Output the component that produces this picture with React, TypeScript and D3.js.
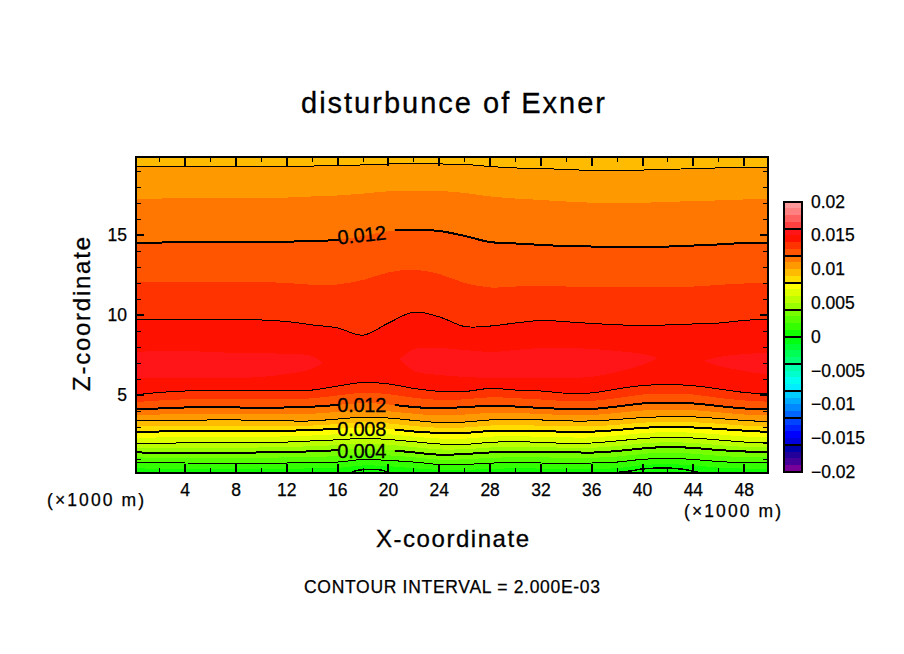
import React from 'react';
import * as d3 from 'd3';

const width = 904;
const height = 654;
const FONT = '"Liberation Sans", Arimo, sans-serif';

const xKnots = [0, 2, 4, 6, 8, 10, 12, 14, 16, 18, 20, 22, 24, 26, 28, 30, 32, 34, 36, 38, 40, 42, 44, 46, 48, 50];

// Contour heights (km) going up from the ground, where the field increases with z
const z001 = [0.41, 0.4, 0.4, 0.4, 0.4, 0.4, 0.4, 0.41, 0.44, 0.6, 0.55, 0.42, 0.32, 0.32, 0.38, 0.42, 0.4, 0.38, 0.38, 0.42, 0.62, 0.68, 0.6, 0.46, 0.4, 0.4];
const z002 = [0.79, 0.78, 0.75, 0.75, 0.75, 0.75, 0.75, 0.77, 0.81, 0.97, 0.91, 0.81, 0.66, 0.66, 0.74, 0.79, 0.75, 0.73, 0.75, 0.81, 0.98, 1.04, 0.97, 0.84, 0.77, 0.77];
const z003 = [1.1, 1.08, 1.07, 1.07, 1.07, 1.08, 1.1, 1.13, 1.18, 1.3, 1.23, 1.11, 0.96, 0.98, 1.07, 1.11, 1.1, 1.08, 1.08, 1.15, 1.32, 1.4, 1.33, 1.2, 1.12, 1.11];
const z004 = [1.42, 1.38, 1.38, 1.39, 1.39, 1.41, 1.44, 1.48, 1.55, 1.63, 1.56, 1.41, 1.27, 1.31, 1.41, 1.44, 1.46, 1.43, 1.4, 1.5, 1.66, 1.75, 1.69, 1.56, 1.47, 1.46];
const z005 = [1.68, 1.68, 1.7, 1.71, 1.71, 1.72, 1.75, 1.8, 1.87, 1.96, 1.89, 1.74, 1.6, 1.61, 1.72, 1.76, 1.75, 1.7, 1.7, 1.81, 1.97, 2.05, 2.0, 1.87, 1.76, 1.75];
const z006 = [1.94, 1.98, 2.01, 2.03, 2.04, 2.04, 2.06, 2.13, 2.2, 2.29, 2.22, 2.08, 1.94, 1.91, 2.04, 2.08, 2.04, 1.98, 2.0, 2.13, 2.28, 2.36, 2.31, 2.19, 2.06, 2.04];
const z007 = [2.3, 2.35, 2.38, 2.39, 2.4, 2.4, 2.41, 2.47, 2.55, 2.63, 2.55, 2.4, 2.28, 2.27, 2.4, 2.42, 2.39, 2.35, 2.35, 2.47, 2.61, 2.68, 2.64, 2.53, 2.41, 2.36];
const z008 = [2.67, 2.72, 2.75, 2.75, 2.75, 2.77, 2.77, 2.81, 2.89, 2.97, 2.88, 2.72, 2.63, 2.63, 2.75, 2.77, 2.73, 2.71, 2.71, 2.81, 2.95, 3.0, 2.97, 2.88, 2.77, 2.69];
const z009 = [3.02, 3.06, 3.08, 3.09, 3.09, 3.09, 3.07, 3.09, 3.19, 3.29, 3.22, 3.06, 2.95, 2.97, 3.09, 3.12, 3.08, 3.04, 3.04, 3.14, 3.27, 3.32, 3.3, 3.2, 3.09, 3.01];
const z010 = [3.38, 3.41, 3.42, 3.44, 3.44, 3.42, 3.38, 3.38, 3.5, 3.61, 3.56, 3.41, 3.28, 3.31, 3.44, 3.47, 3.44, 3.38, 3.38, 3.47, 3.59, 3.64, 3.63, 3.53, 3.41, 3.33];
const z011 = [3.74, 3.78, 3.82, 3.83, 3.83, 3.82, 3.8, 3.83, 3.94, 4.05, 3.98, 3.83, 3.72, 3.78, 3.88, 3.88, 3.81, 3.75, 3.75, 3.88, 4.03, 4.08, 4.05, 3.92, 3.78, 3.72];
const z012 = [4.11, 4.16, 4.22, 4.23, 4.22, 4.21, 4.22, 4.27, 4.38, 4.5, 4.41, 4.25, 4.16, 4.25, 4.31, 4.28, 4.19, 4.13, 4.13, 4.28, 4.47, 4.52, 4.47, 4.31, 4.16, 4.11];
const z013 = [4.55, 4.66, 4.73, 4.77, 4.75, 4.74, 4.74, 4.79, 4.97, 5.14, 5.05, 4.83, 4.69, 4.73, 4.86, 4.8, 4.72, 4.62, 4.63, 4.81, 5.03, 5.09, 5.03, 4.82, 4.66, 4.58];
const z014 = [5.0, 5.16, 5.25, 5.31, 5.28, 5.27, 5.27, 5.31, 5.56, 5.78, 5.69, 5.41, 5.23, 5.22, 5.41, 5.31, 5.25, 5.11, 5.13, 5.38, 5.59, 5.66, 5.58, 5.38, 5.16, 5.06];

// Same levels again above the maximum, where the field decreases with z
const zUp014 = [9.75, 9.73, 9.72, 9.71, 9.7, 9.69, 9.59, 9.38, 9.19, 8.74, 9.5, 10.18, 9.88, 9.28, 9.31, 9.5, 9.66, 9.58, 9.47, 9.39, 9.34, 9.38, 9.44, 9.5, 9.66, 9.75];
const zUp013 = [12.08, 12.08, 12.08, 12.07, 12.06, 12.06, 12.0, 11.89, 11.91, 12.19, 12.66, 12.83, 12.56, 12.0, 11.72, 11.78, 11.81, 11.78, 11.75, 11.75, 11.75, 11.75, 11.78, 11.88, 11.97, 12.0];
const zUp012 = [14.52, 14.53, 14.54, 14.55, 14.56, 14.56, 14.58, 14.63, 14.69, 14.94, 15.25, 15.33, 15.25, 14.94, 14.56, 14.47, 14.38, 14.31, 14.28, 14.28, 14.28, 14.28, 14.34, 14.41, 14.5, 14.53];
const zUp011 = [17.25, 17.28, 17.29, 17.31, 17.31, 17.33, 17.34, 17.41, 17.47, 17.59, 17.73, 17.75, 17.75, 17.63, 17.41, 17.28, 17.19, 17.09, 17.02, 17.02, 17.02, 17.06, 17.13, 17.16, 17.22, 17.25];
const zUp010 = [19.27, 19.28, 19.31, 19.31, 19.31, 19.31, 19.31, 19.31, 19.34, 19.38, 19.44, 19.47, 19.44, 19.41, 19.28, 19.19, 19.16, 19.09, 19.04, 19.04, 19.06, 19.09, 19.16, 19.19, 19.22, 19.23];

// Closed 0.015 patches: x, then upper and lower edge
const blobLeftX = [0, 2, 4, 6, 8, 10, 12, 14, 14.8];
const blobLeftTop = [7.69, 7.75, 7.75, 7.69, 7.63, 7.63, 7.56, 7.44, 7.0];
const blobLeftBottom = [6.06, 6.06, 6.06, 6.06, 6.06, 6.13, 6.31, 6.63, 7.0];
const blobMidX = [20.9, 22, 24, 26, 28, 30, 32, 34, 36, 38, 40, 41.2];
const blobMidTop = [7.25, 7.88, 7.94, 7.81, 7.69, 7.81, 7.94, 7.94, 7.88, 7.75, 7.56, 7.31];
const blobMidBottom = [7.25, 6.5, 6.25, 6.13, 6.06, 6.06, 6.06, 6.06, 6.13, 6.44, 6.88, 7.31];
const blobRightX = [44.8, 46, 48, 50];
const blobRightTop = [7.13, 7.38, 7.56, 7.63];
const blobRightBottom = [7.13, 6.81, 6.5, 6.25];

// Zero contour, only touching the ground in two places
const zeroAX = [17, 17.6, 19.5, 20];
const zeroAZ = [0.125, 0.3, 0.3, 0.125];
const zeroBX = [37.8, 39.2, 40, 43, 44.5];
const zeroBZ = [0.14, 0.27, 0.38, 0.38, 0.14];

// 40 colour bands, top of the colour bar first (0.02 down to -0.02)
const bandColors = [
  '#ff9999', '#ff8080', '#ff6060', '#ff4040',
  '#ff1418', '#ff1100', '#ff3300', '#ff5500',
  '#ff7700', '#ff9900', '#ffbb00', '#ffdd00',
  '#ffff00', '#ddff00', '#bbff00', '#99ff00',
  '#77ff00', '#55ff00', '#33ff00', '#11ff00',
  '#00ff11', '#00ff33', '#00ff55', '#00ff77',
  '#00ffaa', '#00ffcc', '#00ffee', '#00eeff',
  '#00ccff', '#00aaff', '#0088ff', '#0066ff',
  '#0044ff', '#0022ff', '#0000ff', '#0000dd',
  '#0000aa', '#220099', '#440099', '#770099'
];
const barTicks = [0.02, 0.015, 0.01, 0.005, 0, -0.005, -0.01, -0.015, -0.02];
const barLabels = ['0.02', '0.015', '0.01', '0.005', '0', '\u22120.005', '\u22120.01', '\u22120.015', '\u22120.02'];

const xMajor = [4, 8, 12, 16, 20, 24, 28, 32, 36, 40, 44, 48];
const xMinor = [2, 6, 10, 14, 18, 22, 26, 30, 34, 38, 42, 46];
const zMajor = [5, 10, 15];
const zMinor = [1, 2, 3, 4, 6, 7, 8, 9, 11, 12, 13, 14, 16, 17, 18, 19];

const x = d3.scaleLinear().domain([0.125, 49.875]).range([136, 768]);
const y = d3.scaleLinear().domain([0.125, 19.875]).range([473, 157]);
const barY = d3.scaleLinear().domain([0.02, -0.02]).range([201.5, 472]);

const colorOf = (lowerBound: number) => {
  const i = Math.round((0.02 - lowerBound) / 0.001) - 1;
  return bandColors[i];
};

const curve = d3.curveCatmullRom.alpha(0.5);

const lineOf = (xs: number[], zs: number[]) =>
  d3.line<number>().x((_, i) => x(xs[i])).y(d => y(d)).curve(curve)(zs) || '';

// fills from the contour up to the top of the plot
const fillAbove = (zs: number[]) =>
  d3.area<number>().x((_, i) => x(xKnots[i])).y0(() => y(19.875)).y1(d => y(d)).curve(curve)(zs) || '';

const blobPath = (xs: number[], top: number[], bottom: number[]) =>
  d3.area<number>().x((_, i) => x(xs[i])).y0((_, i) => y(bottom[i])).y1(d => y(d)).curve(curve)(top) || '';

// the fills are painted in this order, each one over the last
const upFills: [number[], number][] = [
  [z001, 0.001], [z002, 0.002], [z003, 0.003], [z004, 0.004], [z005, 0.005], [z006, 0.006], [z007, 0.007],
  [z008, 0.008], [z009, 0.009], [z010, 0.01], [z011, 0.011], [z012, 0.012], [z013, 0.013], [z014, 0.014]
];
const downFills: [number[], number][] = [
  [zUp014, 0.013], [zUp013, 0.012], [zUp012, 0.011], [zUp011, 0.01], [zUp010, 0.009]
];

const thinLines = [z002, z006, z010, z014, zUp014, zUp010];
const labelledLines = [z004, z008, z012, zUp012];

const contourLabels = [
  { text: '0.012', x: 17.9, z: 15.0, angle: -6 },
  { text: '0.012', x: 17.9, z: 4.4, angle: 0 },
  { text: '0.008', x: 17.9, z: 2.85, angle: 0 },
  { text: '0.004', x: 17.9, z: 1.5, angle: 0 }
];

export default function App() {
  const gapLeft = x(16.1);
  const gapRight = x(20.5);
  return (
    <svg width={width} height={height} style={{ position: 'absolute', left: 0, top: 0, background: '#fff' }} fontFamily={FONT} stroke="none">
      <defs>
        <clipPath id="plot">
          <rect x={136} y={157} width={632} height={316} />
        </clipPath>
        <clipPath id="gap">
          <rect x={136} y={157} width={gapLeft - 136} height={316} />
          <rect x={gapRight} y={157} width={768 - gapRight} height={316} />
        </clipPath>
      </defs>

      <text x={453} y={113} fontSize={29} textAnchor="middle" textLength={304} stroke="#000" strokeWidth={0.3}>disturbunce of Exner</text>

      {/* Filled bands */}
      <g clipPath="url(#plot)" shapeRendering="crispEdges">
        <rect x={136} y={157} width={632} height={316} fill={colorOf(0)} />
        {upFills.map(([zs, lvl]) => (
          <path key={`up-${lvl}`} d={fillAbove(zs)} fill={colorOf(lvl)} />
        ))}
        {downFills.map(([zs, lvl]) => (
          <path key={`down-${lvl}`} d={fillAbove(zs)} fill={colorOf(lvl)} />
        ))}
        <path d={blobPath(blobLeftX, blobLeftTop, blobLeftBottom)} fill={colorOf(0.015)} />
        <path d={blobPath(blobMidX, blobMidTop, blobMidBottom)} fill={colorOf(0.015)} />
        <path d={blobPath(blobRightX, blobRightTop, blobRightBottom)} fill={colorOf(0.015)} />
      </g>

      {/* Contour lines */}
      <g clipPath="url(#plot)" fill="none" stroke="#000" shapeRendering="crispEdges">
        {thinLines.map((zs, i) => (
          <path key={`thin-${i}`} d={lineOf(xKnots, zs)} strokeWidth={1} />
        ))}
        <path d={lineOf(zeroAX, zeroAZ)} strokeWidth={1.5} />
        <path d={lineOf(zeroBX, zeroBZ)} strokeWidth={1.5} />
      </g>
      <g clipPath="url(#gap)" fill="none" stroke="#000" shapeRendering="crispEdges">
        {labelledLines.map((zs, i) => (
          <path key={`thick-${i}`} d={lineOf(xKnots, zs)} strokeWidth={2} />
        ))}
      </g>
      {contourLabels.map(l => (
        <text
          key={`${l.text}-${l.z}`}
          transform={`translate(${x(l.x)},${y(l.z)}) rotate(${l.angle})`}
          fontSize={20}
          textAnchor="middle"
          dominantBaseline="central"
          textLength={49}
          stroke="#000"
          strokeWidth={0.3}
        >
          {l.text}
        </text>
      ))}

      {/* Ticks, pointing inwards on all four sides */}
      <g stroke="#000" shapeRendering="crispEdges">
        {xMajor.map(t => (
          <g key={`xM-${t}`} strokeWidth={2}>
            <line x1={x(t)} x2={x(t)} y1={157} y2={166} />
            <line x1={x(t)} x2={x(t)} y1={473} y2={464} />
          </g>
        ))}
        {xMinor.map(t => (
          <g key={`xm-${t}`} strokeWidth={1}>
            <line x1={x(t)} x2={x(t)} y1={157} y2={162} />
            <line x1={x(t)} x2={x(t)} y1={473} y2={468} />
          </g>
        ))}
        {zMajor.map(t => (
          <g key={`zM-${t}`} strokeWidth={2}>
            <line x1={136} x2={144} y1={y(t)} y2={y(t)} />
            <line x1={768} x2={760} y1={y(t)} y2={y(t)} />
          </g>
        ))}
        {zMinor.map(t => (
          <g key={`zm-${t}`} strokeWidth={1}>
            <line x1={136} x2={141} y1={y(t)} y2={y(t)} />
            <line x1={768} x2={763} y1={y(t)} y2={y(t)} />
          </g>
        ))}
        <rect x={136} y={157} width={632} height={316} fill="none" strokeWidth={2} />
      </g>

      {/* Tick labels */}
      <g fontSize={17.5} stroke="#000" strokeWidth={0.25}>
        {xMajor.map(t => (
          <text key={`xl-${t}`} x={x(t)} y={496} textAnchor="middle">{t}</text>
        ))}
        {zMajor.map(t => (
          <text key={`zl-${t}`} x={127} y={y(t)} textAnchor="end" dominantBaseline="central">{t}</text>
        ))}
        <text x={47} y={506} textLength={97}>(×1000 m)</text>
        <text x={684} y={517} textLength={97}>(×1000 m)</text>
        <text x={304} y={593} textLength={296}>CONTOUR INTERVAL = 2.000E-03</text>
      </g>

      <text x={452.5} y={547} fontSize={24} textAnchor="middle" textLength={153} stroke="#000" strokeWidth={0.3}>X-coordinate</text>
      <text
        transform={`translate(90,314) rotate(-90)`}
        fontSize={24}
        textAnchor="middle"
        textLength={154}
        stroke="#000"
        strokeWidth={0.3}
      >
        Z-coordinate
      </text>

      {/* Colour bar */}
      <g shapeRendering="crispEdges">
        {bandColors.map((c, i) => (
          <rect
            key={c}
            x={784}
            y={barY(0.02 - i * 0.001)}
            width={18}
            height={barY(0.02 - (i + 1) * 0.001) - barY(0.02 - i * 0.001) + 0.5}
            fill={c}
          />
        ))}
        {d3.range(1, 10).map(i => (
          <line key={`sep-${i}`} x1={784} x2={802} y1={barY(0.02 - i * 0.004)} y2={barY(0.02 - i * 0.004)} stroke="#000" strokeWidth={2} />
        ))}
        <rect x={784} y={201.5} width={18} height={270.5} fill="none" stroke="#000" strokeWidth={2} />
      </g>
      <g fontSize={17.5} stroke="#000" strokeWidth={0.25}>
        {barTicks.map((t, i) => (
          <text key={`bl-${t}`} x={811} y={barY(t)} dominantBaseline="central">{barLabels[i]}</text>
        ))}
      </g>
    </svg>
  );
}
